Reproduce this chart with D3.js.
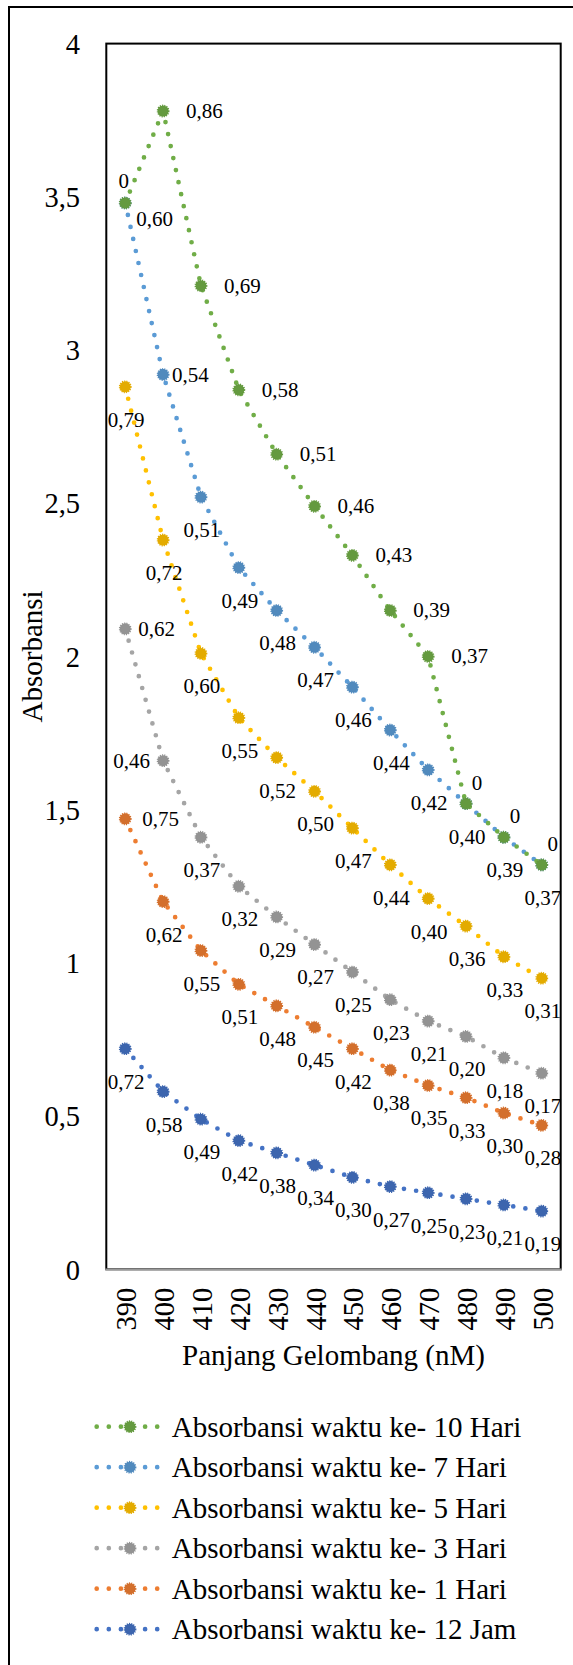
<!DOCTYPE html>
<html><head><meta charset="utf-8">
<script src="https://cdn.jsdelivr.net/npm/d3@7"></script>
<style>html,body{margin:0;padding:0;background:#fff}svg{display:block}</style>
</head><body><svg id="c" width="573" height="1665"></svg>
<script>
// ---- data ----
const categories = ["390","400","410","420","430","440","450","460","470","480","490","500"];
const jam12  = [0.72,0.58,0.49,0.42,0.38,0.34,0.30,0.27,0.25,0.23,0.21,0.19];
const hari1  = [0.75,0.62,0.55,0.51,0.48,0.45,0.42,0.38,0.35,0.33,0.30,0.28];
const hari3  = [0.62,0.46,0.37,0.32,0.29,0.27,0.25,0.23,0.21,0.20,0.18,0.17];
const hari5  = [0.79,0.72,0.60,0.55,0.52,0.50,0.47,0.44,0.40,0.36,0.33,0.31];
const hari7  = [0.60,0.54,0.51,0.49,0.48,0.47,0.46,0.44,0.42,0.40,0.39,0.37];
const hari10 = [0,0.86,0.69,0.58,0.51,0.46,0.43,0.39,0.37,0,0,0];
const seriesNames = [
  "Absorbansi waktu ke- 12 Jam",
  "Absorbansi waktu ke- 1 Hari",
  "Absorbansi waktu ke- 3 Hari",
  "Absorbansi waktu ke- 5 Hari",
  "Absorbansi waktu ke- 7 Hari",
  "Absorbansi waktu ke- 10 Hari"
];
const yTicks = [0,0.5,1,1.5,2,2.5,3,3.5,4];
const xTitle = "Panjang Gelombang (nM)";
const yTitle = "Absorbansi";

// ---- style / layout (not data) ----
const colors = ["#4472C4","#ED7D31","#A5A5A5","#FFC000","#5B9BD5","#70AD47"];
const labelPlacement = [
  ["b","b","b","b","b","b","b","b","b","b","b","b"],
  ["r","b","b","b","b","b","b","b","b","b","b","b"],
  ["r","l","b","b","b","b","b","b","b","b","b","b"],
  ["b","b","b","b","b","b","b","b","b","b","b","b"],
  ["br","r","b","b","b","b","b","b","b","b","b","b"],
  ["t","r","r","r","r","r","r","r","r","tr","tr","tr"]
];
const rightGap = [12, 17, 13, 12, 9, 23];
const FONT = "Liberation Serif, Times New Roman, serif";

const seriesValues = [jam12, hari1, hari3, hari5, hari7, hari10];
const keys = seriesValues.map((_, i) => "s" + i);
const table = categories.map((c, i) => {
  const row = {cat: c};
  seriesValues.forEach((arr, k) => row[keys[k]] = arr[i]);
  return row;
});
const stacked = d3.stack().keys(keys)(table);

const svg = d3.select("#c");
svg.append("rect").attr("width",573).attr("height",1665).attr("fill","#fff");
// outer chart border
svg.append("rect").attr("x",9).attr("y",7).attr("width",600).attr("height",1700)
  .attr("fill","none").attr("stroke","#000").attr("stroke-width",2);

const L = 106.3, R = 560.7, T = 43.6, B = 1269.3;
const x = d3.scalePoint().domain(categories).range([L, R]).padding(0.5);
const y = d3.scaleLinear().domain([0, 4]).range([B, T]);
const fmt = v => v === 0 ? "0" : d3.format(".2f")(v).replace(".", ",");
const fmtTick = v => String(v).replace(".", ",");

// plot area border
svg.append("rect").attr("x",L).attr("y",T).attr("width",R-L).attr("height",B-T)
  .attr("fill","none").attr("stroke","#000").attr("stroke-width",2);

// y axis
const gy = svg.append("g").attr("transform",`translate(${L},0)`)
  .call(d3.axisLeft(y).tickValues(yTicks).tickSize(0).tickPadding(26.3).tickFormat(fmtTick));
gy.attr("font-family",FONT);
gy.select(".domain").remove();
gy.selectAll("text").style("font-family",FONT).attr("font-size",28.5).attr("fill","#000")
  .attr("dy","0.34em");

// x axis
const gx = svg.append("g").attr("transform",`translate(0,${B})`)
  .call(d3.axisBottom(x).tickSize(0));
gx.attr("font-family",FONT);
gx.select(".domain").remove();
gx.selectAll("text").style("font-family",FONT).attr("font-size",28.5).attr("fill","#000")
  .attr("transform","rotate(-90)").attr("text-anchor","end")
  .attr("x",-18.5).attr("y",1).attr("dy",null).attr("dominant-baseline","central");
svg.append("line").attr("x1",L-1).attr("x2",R+1).attr("y1",B).attr("y2",B)
  .attr("stroke","#9a9a9a").attr("stroke-width",1.8);

// axis titles
svg.append("text").attr("x",(L+R)/2).attr("y",1364.5).attr("text-anchor","middle")
  .style("font-family",FONT).attr("font-size",29).attr("fill","#000").text(xTitle);
svg.append("text").attr("transform",`translate(41.7,${(T+B)/2}) rotate(-90)`)
  .attr("text-anchor","middle").style("font-family",FONT).attr("font-size",29)
  .attr("fill","#000").text(yTitle);

// series
const line = d3.line().x(d => x(d.data.cat)).y(d => y(d[1]));
function marker(g, cx, cy, c) {
  const mc = d3.color(c).darker(0.33).formatHex();
  g.append("circle").attr("cx",cx).attr("cy",cy).attr("r",5.5).attr("fill",mc)
    .attr("stroke",mc).attr("stroke-width",1.8).attr("stroke-dasharray","1.1 1.1");
}
const gs = svg.append("g");
stacked.forEach((s, si) => {
  const g = gs.append("g");
  g.append("path").attr("d", line(s)).attr("fill","none").attr("stroke",colors[si])
    .attr("stroke-width",4.7).attr("stroke-linecap","round").attr("stroke-dasharray","0 12.3");
  s.forEach(d => marker(g, x(d.data.cat), y(d[1]), colors[si]));
});
// labels
const gl = svg.append("g").style("font-family",FONT).attr("font-size",21).attr("fill","#000");
stacked.forEach((s, si) => {
  s.forEach((d, i) => {
    const px = x(d.data.cat), py = y(d[1]);
    const code = labelPlacement[si][i];
    const t = gl.append("text").attr("dominant-baseline","central").text(fmt(seriesValues[si][i]));
    if (code === "b") t.attr("x",px+1).attr("y",py+33).attr("text-anchor","middle");
    else if (code === "t") t.attr("x",px-1.5).attr("y",py-22).attr("text-anchor","middle");
    else if (code === "tr") t.attr("x",px+11).attr("y",py-21).attr("text-anchor","middle");
    else if (code === "r") t.attr("x",px+rightGap[si]).attr("y",py).attr("text-anchor","start");
    else if (code === "br") t.attr("x",px+rightGap[si]+2).attr("y",py+16).attr("text-anchor","start");
    else if (code === "l") t.attr("x",px-rightGap[si]).attr("y",py).attr("text-anchor","end");
  });
});

// legend (reverse order)
const gleg = svg.append("g");
const order = d3.range(seriesNames.length).reverse();
order.forEach((si, row) => {
  const ly = 1426.7 + row * 40.5;
  const c = colors[si];
  gleg.append("path").attr("d", `M96.7,${ly}H158`).attr("stroke",c).attr("stroke-width",4.7)
    .attr("stroke-linecap","round").attr("stroke-dasharray","0 12.1").attr("fill","none");
  marker(gleg, 130, ly, c);
  gleg.append("text").attr("x",171.7).attr("y",ly).attr("dominant-baseline","central")
    .style("font-family",FONT).attr("font-size",29).attr("fill","#000").text(seriesNames[si]);
});
</script></body></html>
